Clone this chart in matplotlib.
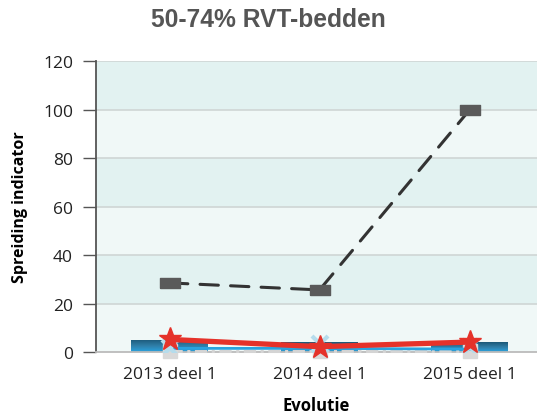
import numpy as np
import matplotlib
matplotlib.use("Agg")
import matplotlib.pyplot as plt

# data
categories = ["2013 deel 1", "2014 deel 1", "2015 deel 1"]
bar_values = [5, 4, 4]
dashed_values = [28.5, 25.6, 99.8]
red_values = [5.2, 2.2, 4.1]
blue_values = [1.5, 1.5, 1.2]
cross_values = [1.5, 3.2, 2.0]
gray_values = [0.3, 0.3, 0.3]
yticks = [0, 20, 40, 60, 80, 100, 120]

fig = plt.figure(figsize=(5.37, 4.14), dpi=100)
ax = fig.add_axes([0.1788, 0.1473, 0.8212, 0.7029])
x = np.arange(len(categories))

# alternating background bands
ax.set_facecolor("#f0f8f7")
for i in range(len(yticks) - 1):
    if i % 2 == 1:
        ax.axhspan(yticks[i], yticks[i + 1], color="#e2f2f1", zorder=0, lw=0)
for t in yticks[1:]:
    ax.axhline(t, color="#cfd6d5", lw=1.2, zorder=0.5)

# gradient bars, dark on top, bright blue at the bottom
grad = np.linspace(0, 1, 50).reshape(-1, 1)
cmap = matplotlib.colors.LinearSegmentedColormap.from_list(
    "bar", ["#1b5878", "#2f7da6", "#2aa3df"])
bars = ax.bar(x, bar_values, width=0.51, facecolor="none", edgecolor="none", zorder=2)
for b in bars:
    im = ax.imshow(grad, cmap=cmap, aspect="auto", zorder=2, origin="upper",
                   extent=[b.get_x(), b.get_x() + b.get_width(), 0, b.get_height()])
    im.set_clip_path(b)

ax.plot(x, gray_values, color="#d4d4d4", lw=2.2, linestyle=(0, (4, 1.5, 1, 1.5)),
        marker="s", ms=10, mfc="#d9d9d9", mec="#d9d9d9", zorder=3, clip_on=False)
ax.plot(x, blue_values, color="#2aa3df", lw=2, zorder=3)
ax.plot(x, cross_values, linestyle="none", marker="x", ms=12, mew=3,
        color="#b5dcec", zorder=3.5)

rect = [(-1, -0.48), (1, -0.48), (1, 0.48), (-1, 0.48), (-1, -0.48)]
ax.plot(x, dashed_values, color="#333333", lw=2.2, linestyle=(0, (6, 4)),
        dash_capstyle="round", marker=rect, ms=15, mfc="#5a5a5a", mec="#5a5a5a",
        zorder=4)
ax.plot(x, red_values, color="#e5322a", lw=3.8, marker="*", ms=17,
        mfc="#e5322a", mec="#e5322a", zorder=5, clip_on=False)

ax.set_xlim(-0.49, 2.45)
ax.set_ylim(0, 120)
ax.set_yticks(yticks)
ax.set_xticks(x)

tick_font = ["Open Sans", "DejaVu Sans"]
ax.set_xticklabels(categories, fontsize=12.5, family=tick_font, color="#222222")
ax.set_yticklabels([str(t) for t in yticks], fontsize=12.5, family=tick_font, color="#222222")
ax.tick_params(axis="x", length=0, pad=10)
ax.tick_params(axis="y", length=9.5, width=1, color="#555555", pad=7)

for s in ["top", "right"]:
    ax.spines[s].set_visible(False)
ax.spines["left"].set_color("#555555")
ax.spines["left"].set_linewidth(1.3)
ax.spines["bottom"].set_color("#bbbbbb")
ax.spines["bottom"].set_linewidth(1.3)

ax.set_ylabel("Spreiding indicator", fontsize=11.5, fontweight="bold",
              family=tick_font, labelpad=11)
ax.set_xlabel("Evolutie", fontsize=12, fontweight="bold", family=tick_font, labelpad=10)
fig.text(0.5, 0.952, "50-74% RVT-bedden", ha="center", va="center", fontsize=17.7,
         fontweight="bold", family=["Liberation Sans", "DejaVu Sans"], color="#555555")

fig.savefig("out.png", dpi=100)
